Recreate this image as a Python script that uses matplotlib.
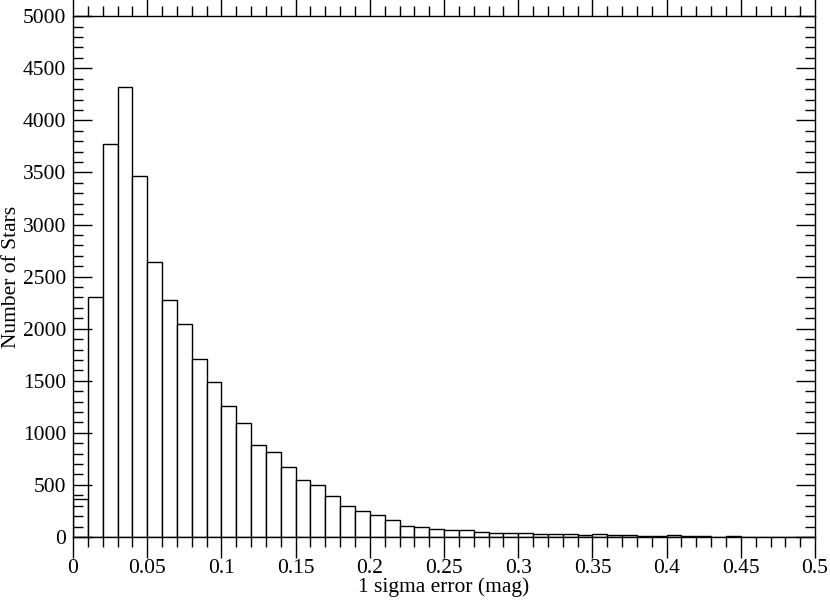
import numpy as np
import matplotlib
matplotlib.use("Agg")
import matplotlib.pyplot as plt
from matplotlib.ticker import MultipleLocator

plt.rcParams['font.family'] = ['Liberation Serif', 'DejaVu Serif']

# histogram of 1 sigma errors, bins 0.01 mag wide starting at 0
bin_left = np.arange(0, 0.50, 0.01)
counts = [360, 2306, 3772, 4316, 3467, 2636, 2274, 2044, 1705, 1491,
          1257, 1091, 886, 819, 672, 544, 499, 397, 295, 250,
          214, 160, 109, 93, 80, 64, 64, 51, 38, 38,
          35, 32, 32, 24, 15, 24, 19, 16, 8, 6,
          19, 6, 5, 4, 13, 4, 3, 3, 2, 2]

fig = plt.figure(figsize=(8.30, 6.02), dpi=100)
ax = fig.add_axes([0.088, 0.108, 0.894, 0.865])

ax.bar(bin_left, counts, width=0.01, align='edge', color='white',
       edgecolor='black', linewidth=1.0)

ax.set_xlim(0, 0.5)
ax.set_ylim(0, 5000)
ax.xaxis.set_minor_locator(MultipleLocator(0.01))
ax.yaxis.set_major_locator(MultipleLocator(500))
ax.yaxis.set_minor_locator(MultipleLocator(100))
ax.set_xticks(np.arange(0, 0.51, 0.05))
ax.set_xticklabels(['0', '0.05', '0.1', '0.15', '0.2', '0.25', '0.3', '0.35', '0.4', '0.45', '0.5'])

fs = 15.5
ax.tick_params(axis='x', which='both', direction='out', top=True, bottom=True, labelsize=fs, width=1.0)
ax.tick_params(axis='x', which='major', length=15, pad=1)
ax.tick_params(axis='x', which='minor', length=7)
ax.tick_params(axis='y', which='both', direction='in', left=True, right=True, labelsize=fs, width=1.0)
ax.tick_params(axis='y', which='major', length=14, pad=5)
ax.tick_params(axis='y', which='minor', length=7)
for s in ax.spines.values():
    s.set_linewidth(1.0)

ax.set_xlabel('1 sigma error (mag)', fontsize=fs, labelpad=-1)
ax.set_ylabel('Number of Stars', fontsize=fs, labelpad=1)

plt.savefig('out.png', dpi=100)
